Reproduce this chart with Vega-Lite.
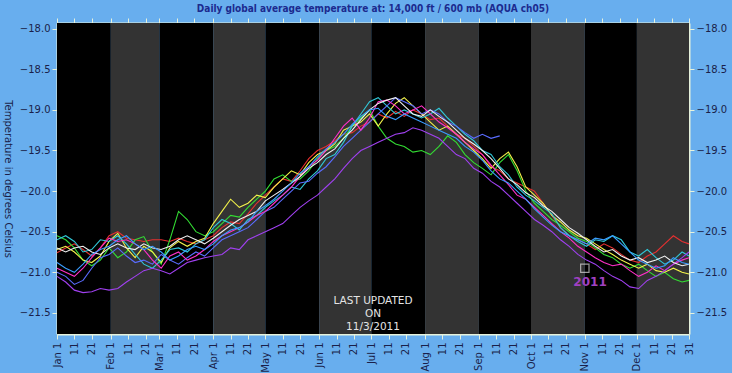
{
"$schema": "https://vega.github.io/schema/vega-lite/v6.json",
"width": 632, "height": 311,
"autosize": {"type": "none"},
"padding": {"left": 57, "top": 23, "right": 43, "bottom": 39},
"background": "#68aeee",
"title": {"text": "Daily global average temperature at: 14,000 ft / 600 mb (AQUA ch05)", "anchor": "middle", "fontSize": 10, "font": "Liberation Sans Narrow, DejaVu Sans Condensed, sans-serif", "fontWeight": "bold", "color": "#1c2a8e", "offset": 4},
"config": {"view": {"stroke": null}, "axis": {"domainColor": "#e6f2dc", "domainWidth": 2, "tickColor": "#e6f2dc", "tickSize": 5, "grid": false, "labelFont": "DejaVu Sans", "labelFontSize": 10, "labelColor": "#1a1f4a", "zindex": 1, "titleFont": "DejaVu Sans", "titleColor": "#1a1f4a", "titleFontWeight": "normal"}},
"resolve": {"axis": {"x": "independent", "y": "independent"}, "scale": {"color": "independent"}},
"layer": [
{"data": {"values": [{"d":1,"d2":32,"k":"a"},{"d":32,"d2":60,"k":"b"},{"d":60,"d2":91,"k":"a"},{"d":91,"d2":121,"k":"b"},{"d":121,"d2":152,"k":"a"},{"d":152,"d2":182,"k":"b"},{"d":182,"d2":213,"k":"a"},{"d":213,"d2":244,"k":"b"},{"d":244,"d2":274,"k":"a"},{"d":274,"d2":305,"k":"b"},{"d":305,"d2":335,"k":"a"},{"d":335,"d2":365,"k":"b"}]},
 "mark": {"type": "rect"},
 "encoding": {
  "x": {"field": "d", "type": "quantitative", "scale": {"domain": [1, 365], "nice": false, "zero": false}, "axis": {"orient": "bottom", "values": [1,11,21,32,42,52,60,70,80,91,101,111,121,131,141,152,162,172,182,192,202,213,223,233,244,254,264,274,284,294,305,315,325,335,345,355,365], "labelExpr": "date(datetime(2011,0,datum.value))==1 ? timeFormat(datetime(2011,0,datum.value),'%b')+' 1' : ''+date(datetime(2011,0,datum.value))", "labelAngle": 270, "labelPadding": 3, "title": null}},
  "x2": {"field": "d2"},
  "color": {"field": "k", "type": "nominal", "scale": {"domain": ["a","b"], "range": ["#000000","#333333"]}, "legend": null}
 }},
{"data": {"values": [
{"d":1,"r":-20.76,"g":-20.55,"y":-20.72,"c":-20.6,"b":-21.0,"m":-20.95,"p":-21.05,"w":-20.7,"l":-20.88},
{"d":6,"r":-20.7,"g":-20.6,"y":-20.68,"c":-20.55,"b":-21.05,"m":-21.0,"p":-21.12,"w":-20.75,"l":-20.95},
{"d":11,"r":-20.65,"g":-20.7,"y":-20.75,"c":-20.62,"b":-21.15,"m":-21.05,"p":-21.22,"w":-20.7,"l":-21.0},
{"d":16,"r":-20.72,"g":-20.85,"y":-20.85,"c":-20.75,"b":-21.1,"m":-20.95,"p":-21.25,"w":-20.68,"l":-20.9},
{"d":21,"r":-20.8,"g":-20.92,"y":-20.88,"c":-20.72,"b":-20.95,"m":-20.82,"p":-21.24,"w":-20.75,"l":-20.78},
{"d":26,"r":-20.7,"g":-20.85,"y":-20.8,"c":-20.6,"b":-20.82,"m":-20.7,"p":-21.2,"w":-20.78,"l":-20.72},
{"d":31,"r":-20.55,"g":-20.7,"y":-20.62,"c":-20.62,"b":-20.78,"m":-20.58,"p":-21.22,"w":-20.7,"l":-20.68},
{"d":36,"r":-20.5,"g":-20.82,"y":-20.52,"c":-20.55,"b":-20.7,"m":-20.62,"p":-21.2,"w":-20.65,"l":-20.6},
{"d":41,"r":-20.58,"g":-20.75,"y":-20.7,"c":-20.65,"b":-20.8,"m":-20.6,"p":-21.12,"w":-20.7,"l":-20.55},
{"d":46,"r":-20.6,"g":-20.6,"y":-20.82,"c":-20.78,"b":-20.88,"m":-20.65,"p":-21.05,"w":-20.72,"l":-20.65},
{"d":51,"r":-20.62,"g":-20.56,"y":-20.68,"c":-20.9,"b":-20.85,"m":-20.72,"p":-20.98,"w":-20.65,"l":-20.72},
{"d":56,"r":-20.6,"g":-20.75,"y":-20.75,"c":-20.95,"b":-20.9,"m":-20.85,"p":-20.95,"w":-20.7,"l":-20.68},
{"d":61,"r":-20.6,"g":-20.9,"y":-20.88,"c":-20.85,"b":-20.78,"m":-20.95,"p":-20.98,"w":-20.72,"l":-20.75},
{"d":66,"r":-20.62,"g":-20.6,"y":-20.7,"c":-20.72,"b":-20.85,"m":-20.8,"p":-21.02,"w":-20.68,"l":-20.85},
{"d":71,"r":-20.58,"g":-20.25,"y":-20.62,"c":-20.7,"b":-20.9,"m":-20.75,"p":-20.95,"w":-20.6,"l":-20.8},
{"d":76,"r":-20.62,"g":-20.35,"y":-20.68,"c":-20.75,"b":-20.82,"m":-20.85,"p":-20.88,"w":-20.55,"l":-20.72},
{"d":81,"r":-20.65,"g":-20.5,"y":-20.62,"c":-20.65,"b":-20.75,"m":-20.8,"p":-20.85,"w":-20.6,"l":-20.68},
{"d":86,"r":-20.6,"g":-20.55,"y":-20.58,"c":-20.6,"b":-20.8,"m":-20.72,"p":-20.82,"w":-20.65,"l":-20.72},
{"d":91,"r":-20.55,"g":-20.5,"y":-20.4,"c":-20.45,"b":-20.7,"m":-20.62,"p":-20.8,"w":-20.58,"l":-20.65},
{"d":96,"r":-20.45,"g":-20.4,"y":-20.25,"c":-20.35,"b":-20.6,"m":-20.55,"p":-20.78,"w":-20.5,"l":-20.55},
{"d":101,"r":-20.38,"g":-20.3,"y":-20.1,"c":-20.4,"b":-20.55,"m":-20.5,"p":-20.7,"w":-20.42,"l":-20.48},
{"d":106,"r":-20.4,"g":-20.32,"y":-20.2,"c":-20.48,"b":-20.5,"m":-20.45,"p":-20.72,"w":-20.35,"l":-20.45},
{"d":111,"r":-20.28,"g":-20.2,"y":-20.15,"c":-20.35,"b":-20.45,"m":-20.38,"p":-20.6,"w":-20.3,"l":-20.38},
{"d":116,"r":-20.15,"g":-20.1,"y":-20.05,"c":-20.3,"b":-20.35,"m":-20.3,"p":-20.55,"w":-20.25,"l":-20.25},
{"d":121,"r":-20.05,"g":-20.0,"y":-20.08,"c":-20.2,"b":-20.25,"m":-20.25,"p":-20.5,"w":-20.12,"l":-20.18},
{"d":126,"r":-19.95,"g":-19.85,"y":-19.95,"c":-20.12,"b":-20.2,"m":-20.15,"p":-20.45,"w":-20.05,"l":-20.1},
{"d":131,"r":-19.85,"g":-19.8,"y":-19.85,"c":-20.05,"b":-20.1,"m":-20.05,"p":-20.4,"w":-19.98,"l":-20.0},
{"d":136,"r":-19.88,"g":-19.88,"y":-19.75,"c":-19.95,"b":-20.0,"m":-19.95,"p":-20.3,"w":-19.9,"l":-19.9},
{"d":141,"r":-19.75,"g":-19.85,"y":-19.8,"c":-19.98,"b":-19.9,"m":-19.82,"p":-20.2,"w":-19.82,"l":-19.78},
{"d":146,"r":-19.6,"g":-19.75,"y":-19.65,"c":-19.85,"b":-19.88,"m":-19.7,"p":-20.12,"w":-19.72,"l":-19.7},
{"d":151,"r":-19.5,"g":-19.6,"y":-19.55,"c":-19.75,"b":-19.78,"m":-19.62,"p":-20.05,"w":-19.65,"l":-19.58},
{"d":156,"r":-19.45,"g":-19.5,"y":-19.5,"c":-19.6,"b":-19.7,"m":-19.5,"p":-19.95,"w":-19.55,"l":-19.48},
{"d":161,"r":-19.38,"g":-19.45,"y":-19.42,"c":-19.55,"b":-19.58,"m":-19.35,"p":-19.85,"w":-19.48,"l":-19.4},
{"d":166,"r":-19.3,"g":-19.35,"y":-19.25,"c":-19.4,"b":-19.45,"m":-19.2,"p":-19.72,"w":-19.35,"l":-19.3},
{"d":171,"r":-19.28,"g":-19.2,"y":-19.2,"c":-19.2,"b":-19.35,"m":-19.1,"p":-19.6,"w":-19.25,"l":-19.18},
{"d":176,"r":-19.2,"g":-19.1,"y":-19.15,"c":-19.05,"b":-19.25,"m":-19.25,"p":-19.5,"w":-19.12,"l":-19.08},
{"d":181,"r":-19.15,"g":-19.0,"y":-19.05,"c":-18.9,"b":-19.15,"m":-19.1,"p":-19.45,"w":-19.0,"l":-19.0},
{"d":186,"r":-19.05,"g":-19.2,"y":-19.2,"c":-18.85,"b":-19.05,"m":-18.9,"p":-19.4,"w":-18.92,"l":-18.98},
{"d":191,"r":-19.1,"g":-19.35,"y":-19.05,"c":-18.95,"b":-18.95,"m":-18.88,"p":-19.35,"w":-18.88,"l":-19.08},
{"d":196,"r":-19.02,"g":-19.42,"y":-18.92,"c":-19.05,"b":-18.85,"m":-18.95,"p":-19.3,"w":-18.85,"l":-19.12},
{"d":201,"r":-19.08,"g":-19.45,"y":-18.85,"c":-19.0,"b":-18.9,"m":-19.05,"p":-19.28,"w":-18.95,"l":-19.05},
{"d":206,"r":-19.0,"g":-19.52,"y":-18.95,"c":-19.05,"b":-18.95,"m":-19.0,"p":-19.22,"w":-19.05,"l":-19.1},
{"d":211,"r":-19.05,"g":-19.5,"y":-19.05,"c":-19.1,"b":-19.05,"m":-18.95,"p":-19.25,"w":-19.08,"l":-19.15},
{"d":216,"r":-19.12,"g":-19.55,"y":-19.15,"c":-19.05,"b":-19.0,"m":-19.05,"p":-19.3,"w":-19.0,"l":-19.2},
{"d":221,"r":-19.1,"g":-19.45,"y":-19.25,"c":-18.98,"b":-19.05,"m":-19.15,"p":-19.35,"w":-19.08,"l":-19.25},
{"d":226,"r":-19.2,"g":-19.32,"y":-19.2,"c":-19.1,"b":-19.15,"m":-19.22,"p":-19.45,"w":-19.15,"l":-19.3},
{"d":231,"r":-19.3,"g":-19.4,"y":-19.3,"c":-19.2,"b":-19.2,"m":-19.3,"p":-19.55,"w":-19.25,"l":-19.35},
{"d":236,"r":-19.35,"g":-19.55,"y":-19.4,"c":-19.3,"b":-19.28,"m":-19.4,"p":-19.6,"w":-19.35,"l":-19.45},
{"d":241,"r":-19.45,"g":-19.65,"y":-19.5,"c":-19.38,"b":-19.35,"m":-19.48,"p":-19.72,"w":-19.42,"l":-19.52},
{"d":246,"r":-19.55,"g":-19.72,"y":-19.6,"c":-19.5,"b":-19.3,"m":-19.55,"p":-19.78,"w":-19.5,"l":-19.62},
{"d":251,"r":-19.7,"g":-19.8,"y":-19.72,"c":-19.55,"b":-19.35,"m":-19.68,"p":-19.88,"w":-19.6,"l":-19.75},
{"d":256,"r":-19.75,"g":-19.65,"y":-19.6,"c":-19.7,"b":-19.32,"m":-19.8,"p":-19.95,"w":-19.72,"l":-19.85},
{"d":261,"r":-19.85,"g":-19.55,"y":-19.52,"c":-19.8,"b":null,"m":-19.92,"p":-20.05,"w":-19.85,"l":-19.9},
{"d":266,"r":-19.9,"g":-19.75,"y":-19.7,"c":-19.95,"b":null,"m":-20.05,"p":-20.15,"w":-19.92,"l":-20.0},
{"d":271,"r":-19.95,"g":-20.0,"y":-19.95,"c":-20.05,"b":null,"m":-20.1,"p":-20.25,"w":-20.02,"l":-20.1},
{"d":276,"r":-20.0,"g":-20.15,"y":-20.05,"c":-20.12,"b":null,"m":-20.2,"p":-20.35,"w":-20.08,"l":-20.22},
{"d":281,"r":-20.15,"g":-20.25,"y":-20.15,"c":-20.2,"b":null,"m":-20.3,"p":-20.42,"w":-20.18,"l":-20.32},
{"d":286,"r":-20.3,"g":-20.35,"y":-20.3,"c":-20.28,"b":null,"m":-20.4,"p":-20.5,"w":-20.25,"l":-20.42},
{"d":291,"r":-20.45,"g":-20.42,"y":-20.38,"c":-20.45,"b":null,"m":-20.5,"p":-20.6,"w":-20.35,"l":-20.5},
{"d":296,"r":-20.55,"g":-20.5,"y":-20.48,"c":-20.55,"b":null,"m":-20.58,"p":-20.68,"w":-20.45,"l":-20.55},
{"d":301,"r":-20.6,"g":-20.58,"y":-20.55,"c":-20.62,"b":null,"m":-20.68,"p":-20.78,"w":-20.52,"l":-20.6},
{"d":306,"r":-20.65,"g":-20.62,"y":-20.58,"c":-20.68,"b":null,"m":-20.75,"p":-20.85,"w":-20.6,"l":-20.65},
{"d":311,"r":-20.72,"g":-20.7,"y":-20.65,"c":-20.6,"b":null,"m":-20.82,"p":-20.9,"w":-20.68,"l":-20.58},
{"d":316,"r":-20.65,"g":-20.78,"y":-20.72,"c":-20.62,"b":null,"m":-20.88,"p":-20.98,"w":-20.75,"l":-20.6},
{"d":321,"r":-20.7,"g":-20.82,"y":-20.78,"c":-20.55,"b":null,"m":-20.92,"p":-21.05,"w":-20.72,"l":-20.55},
{"d":326,"r":-20.78,"g":-20.9,"y":-20.85,"c":-20.6,"b":null,"m":-20.9,"p":-21.1,"w":-20.8,"l":-20.65},
{"d":331,"r":-20.85,"g":-20.95,"y":-20.9,"c":-20.75,"b":null,"m":-20.98,"p":-21.18,"w":-20.85,"l":-20.75},
{"d":336,"r":-20.88,"g":-20.9,"y":-20.95,"c":-20.8,"b":null,"m":-21.05,"p":-21.2,"w":-20.82,"l":-20.85},
{"d":341,"r":-20.8,"g":-20.98,"y":-20.9,"c":-20.72,"b":null,"m":-21.0,"p":-21.1,"w":-20.88,"l":-20.9},
{"d":346,"r":-20.75,"g":-21.05,"y":-20.98,"c":-20.82,"b":null,"m":-20.92,"p":-21.05,"w":-20.85,"l":-20.95},
{"d":351,"r":-20.65,"g":-21.0,"y":-21.0,"c":-20.9,"b":null,"m":-20.98,"p":-20.98,"w":-20.8,"l":-20.92},
{"d":356,"r":-20.55,"g":-21.08,"y":-20.95,"c":-20.85,"b":null,"m":-20.9,"p":-20.9,"w":-20.88,"l":-20.82},
{"d":361,"r":-20.62,"g":-21.12,"y":-21.0,"c":-20.75,"b":null,"m":-20.85,"p":-20.82,"w":-20.92,"l":-20.88},
{"d":365,"r":-20.65,"g":-21.1,"y":-21.02,"c":-20.8,"b":null,"m":-20.82,"p":-20.75,"w":-20.9,"l":-20.9}
 ]},
 "transform": [{"fold": ["r","g","y","c","b","m","p","w","l"], "as": ["s","v"]}, {"filter": "isValid(datum.v)"}],
 "mark": {"type": "line", "strokeWidth": 1.1},
 "encoding": {
  "x": {"field": "d", "type": "quantitative", "axis": {"orient": "top", "values": [1,11,21,32,42,52,60,70,80,91,101,111,121,131,141,152,162,172,182,192,202,213,223,233,244,254,264,274,284,294,305,315,325,335,345,355,365], "labels": false, "title": null}},
  "y": {"field": "v", "type": "quantitative", "scale": {"domain": [-21.76, -17.93], "nice": false, "zero": false}, "axis": {"orient": "left", "values": [-18,-18.5,-19,-19.5,-20,-20.5,-21,-21.5], "format": ".1f", "title": "Temperature in degrees Celsius", "titleFontSize": 10, "titleAngle": 90, "titlePadding": 17, "labelPadding": 2}},
  "color": {"field": "s", "type": "nominal", "scale": {"domain": ["r","g","y","c","b","m","p","w","l"], "range": ["#e53030","#33dd33","#f2f24a","#30c8d8","#5a6cff","#ff30c8","#a040f0","#f0f0f0","#3a9cff"]}, "legend": null}
 }},
{"data": {"values": [{"d": 305, "v": -20.95}]},
 "mark": {"type": "point", "shape": "square", "size": 70, "filled": false, "color": "#dddddd", "strokeWidth": 1.2},
 "encoding": {
  "x": {"field": "d", "type": "quantitative", "axis": null},
  "y": {"field": "v", "type": "quantitative", "axis": {"orient": "right", "values": [-18,-18.5,-19,-19.5,-20,-20.5,-21,-21.5], "format": ".1f", "title": null, "labelPadding": 2}}
 }},
{"data": {"values": [{"d": 183, "v": -21.35, "t": "LAST UPDATED"}, {"d": 183, "v": -21.51, "t": "ON"}, {"d": 183, "v": -21.67, "t": "11/3/2011"}]},
 "mark": {"type": "text", "color": "#e4e4e4", "font": "DejaVu Sans", "fontSize": 10.5},
 "encoding": {
  "x": {"field": "d", "type": "quantitative", "axis": null},
  "y": {"field": "v", "type": "quantitative", "axis": null},
  "text": {"field": "t"}
 }},
{"data": {"values": [{"d": 308, "v": -21.12, "t": "2011"}]},
 "mark": {"type": "text", "color": "#a040c0", "font": "DejaVu Sans", "fontSize": 12, "fontWeight": "bold"},
 "encoding": {
  "x": {"field": "d", "type": "quantitative", "axis": null},
  "y": {"field": "v", "type": "quantitative", "axis": null},
  "text": {"field": "t"}
 }}
]
}
